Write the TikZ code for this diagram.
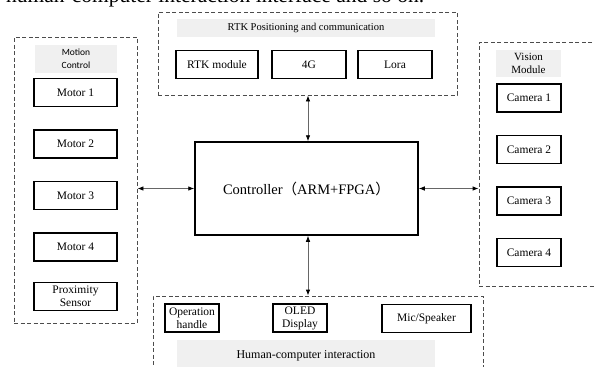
\documentclass[tikz,border=0pt]{standalone}
\usepackage{fontspec}
\setmainfont{Liberation Serif}
\newfontfamily\cjk{Noto Sans CJK SC}
\newfontfamily\calibri{Carlito}
\usetikzlibrary{arrows.meta,positioning,calc}

\begin{document}
\begin{tikzpicture}[
    x=1pt, y=-1pt,
    % global styles
    group/.style={draw=black!70, dash pattern=on 4pt off 2.5pt, line width=0.8pt, inner sep=0pt}, % dashed frame of a module
    band/.style={fill=black!6, inner sep=0pt, align=center, font=\fontsize{10.5}{12}\selectfont}, % grey title band
    part/.style={draw, line width=1.5pt, inner sep=1pt, minimum height=28pt, align=center, font=\fontsize{11.5}{13}\selectfont}, % component box
    % double headed link between controller and modules
    link/.style={draw=black!60, line width=0.8pt, {Latex[length=6pt, width=4.5pt, color=black]}-{Latex[length=6pt, width=4.5pt, color=black]}}
]
    \useasboundingbox (0,0) rectangle (595,367);
    \clip (0,0) rectangle (595,367);

    % --- 0. cut off line of the text above ---
    \node[anchor=base west, inner sep=0pt, font=\fontsize{21.5}{24}\selectfont] (cuttext) at (6,2.5) {human-computer interaction interface and so on.};

    % --- 1. controller in the middle ---
    \node[draw, line width=1.5pt, minimum width=223pt, minimum height=93pt, font=\fontsize{14.5}{16}\selectfont] (ctrl) at (306.5,188.5)
        {Controller{\cjk （}ARM+FPGA{\cjk ）}};

    % --- 2. RTK positioning and communication (top) ---
    \node[group, minimum width=299pt, minimum height=83pt] (rtk) at (307.5,53.5) {};
    \node[band, minimum width=258pt, minimum height=18pt] (rtktitle) at (306,28) {RTK Positioning and communication};
    \node[part, minimum width=82pt] (rtkmod) at (217,64.5) {RTK module};
    \node[part, minimum width=74pt] (net4g) at (309,64.5) {4G};
    \node[part, minimum width=74pt] (lora) at (395,64.5) {Lora};

    % --- 3. motion control (left) ---
    \node[group, minimum width=123pt, minimum height=286pt] (motion) at (75.5,180) {};
    \node[band, minimum width=82pt, minimum height=28pt, font=\calibri\fontsize{9.5}{13}\selectfont] (motiontitle) at (76,59) {Motion\\Control};
    \node[part, minimum width=83pt] (motor1) at (75.5,92.5) {Motor 1};
    \node[part, minimum width=83pt, below=22pt of motor1] (motor2) {Motor 2};
    \node[part, minimum width=83pt, below=22pt of motor2] (motor3) {Motor 3};
    \node[part, minimum width=83pt, below=22pt of motor3] (motor4) {Motor 4};
    \node[part, minimum width=83pt, below=20pt of motor4, font=\fontsize{11.5}{13}\selectfont] (prox) {Proximity\\Sensor};

    % --- 4. vision module (right, cut by the edge) ---
    \node[group, minimum width=136pt, minimum height=244pt] (vision) at (547,164) {};
    \node[band, minimum width=65pt, minimum height=27pt, font=\fontsize{11}{12.5}\selectfont] (visiontitle) at (528.5,63.5) {Vision\\Module};
    \node[part, minimum width=64pt] (cam1) at (529,98) {Camera 1};
    \node[part, minimum width=64pt, below=22pt of cam1] (cam2) {Camera 2};
    \node[part, minimum width=64pt, below=22pt of cam2] (cam3) {Camera 3};
    \node[part, minimum width=64pt, below=22pt of cam3] (cam4) {Camera 4};

    % --- 5. human-computer interaction (bottom, cut by the edge) ---
    \node[group, minimum width=330pt, minimum height=94pt] (hci) at (318,343) {};
    \node[part, minimum width=54pt, font=\fontsize{11.5}{13}\selectfont] (handle) at (192,318) {Operation\\handle};
    \node[part, minimum width=54pt, font=\fontsize{11.5}{13}\selectfont] (oled) at (300,318) {OLED\\Display};
    \node[part, minimum width=89pt] (mic) at (426.5,318.5) {Mic/Speaker};
    \node[band, minimum width=258pt, minimum height=32pt, font=\fontsize{12}{14}\selectfont] (hcititle) at (306,356) {Human-computer interaction};

    % --- 6. links ---
    \draw[link] (motion.east |- ctrl.west) -- (ctrl.west);
    \draw[link] (ctrl.east) -- (vision.west |- ctrl.east);
    \draw[link] ($(ctrl.north |- rtk.south)+(1.5,0)$) -- ($(ctrl.north)+(1.5,0)$);
    \draw[link] ($(ctrl.south)+(1.5,0)$) -- ($(ctrl.south |- hci.north)+(1.5,0)$);

\end{tikzpicture}
\end{document}
